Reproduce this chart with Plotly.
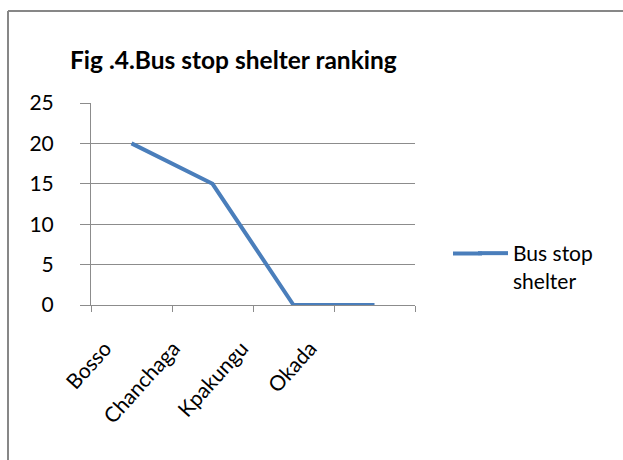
import plotly.graph_objects as go

categories = ["Bosso", "Chanchaga", "Kpakungu", "Okada"]
values = [20, 15, 0, 0]
series_name = "Bus stop shelter"
y_ticks = [0, 5, 10, 15, 20, 25]

W, H = 623, 460
L, R, T, B = 91, 623 - 415, 103, 460 - 305
pw, ph = W - L - R, H - T - B

def px_x(x):
    return (x - L) / pw

def px_y(y):
    return (H - B - y) / ph

FONT = "Lato"
LINE_COLOR = "#4A7EBB"
GRID = "#8C8C8C"
FS = 21

fig = go.Figure()
fig.add_trace(go.Scatter(
    x=categories, y=values, mode="lines", name="Bus stop<br>shelter",
    line=dict(color=LINE_COLOR, width=4),
))

fig.update_layout(
    width=W, height=H,
    margin=dict(l=L, r=R, t=T, b=B),
    paper_bgcolor="white", plot_bgcolor="white",
    font=dict(family=FONT, size=FS, color="#000000"),
    title=dict(text="<b>Fig .4.Bus stop shelter ranking</b>",
               x=70 / W, xanchor="left", xref="container",
               y=1 - 60 / H, yanchor="middle", yref="container",
               font=dict(family=FONT, size=24.5, color="#000000")),
    showlegend=True,
    legend=dict(x=px_x(473), y=px_y(233), xanchor="left", yanchor="top",
                xref="paper", yref="paper", valign="top",
                font=dict(family=FONT, size=FS, color="#000000"),
                bgcolor="rgba(0,0,0,0)", borderwidth=0, tracegroupgap=0),
    xaxis=dict(
        type="category", range=[-0.5, len(categories) - 0.5],
        showgrid=False, showline=True, linecolor=GRID, linewidth=1,
        ticks="outside", ticklen=6, tickcolor=GRID, tickwidth=1,
        tickmode="array", tickvals=[i - 0.5 for i in range(len(categories) + 1)],
        ticktext=[""] * (len(categories) + 1),
        zeroline=False,
    ),
    xaxis2=dict(
        overlaying="x", type="category",
        range=[-0.41, 4.33], side="bottom",
        showgrid=False, showline=False, ticks="", tickangle=-48,
        tickfont=dict(family=FONT, size=FS, color="#000000"),
        ticklabelstandoff=26, ticklabelshift=-14,
        anchor="y",
    ),
    yaxis=dict(
        range=[0, 25], tickvals=y_ticks,
        showgrid=True, gridcolor=GRID, gridwidth=1,
        showline=True, linecolor=GRID, linewidth=1,
        ticks="outside", ticklen=10, tickcolor=GRID, tickwidth=1,
        ticklabelstandoff=22, zeroline=False,
        tickfont=dict(family=FONT, size=FS, color="#000000"),
    ),
)

# category labels axis
fig.add_trace(go.Scatter(x=categories, y=[None] * len(categories), xaxis="x2",
                         showlegend=False, hoverinfo="skip"))

# extend legend swatch to match reference sample length
fig.add_shape(type="line", xref="paper", yref="paper",
              x0=px_x(453), x1=px_x(482), y0=px_y(253.5), y1=px_y(253.5),
              line=dict(color=LINE_COLOR, width=4))

# chart outer border (top and left edges visible)
fig.add_shape(type="line", xref="paper", yref="paper",
              x0=px_x(8), x1=px_x(623), y0=px_y(11), y1=px_y(11),
              line=dict(color="#878787", width=2), layer="below")
fig.add_shape(type="line", xref="paper", yref="paper",
              x0=px_x(8), x1=px_x(8), y0=px_y(11), y1=px_y(480),
              line=dict(color="#878787", width=2), layer="below")

fig.write_html("out.html")
